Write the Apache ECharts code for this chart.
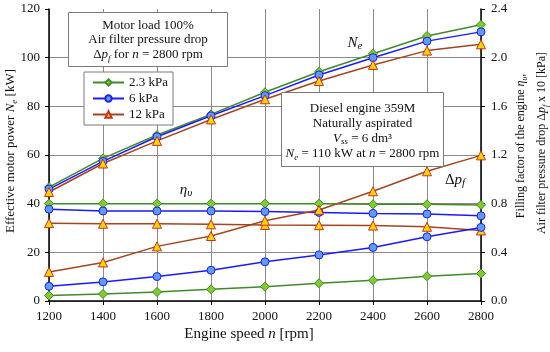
<!DOCTYPE html>
<html><head><meta charset="utf-8">
<script src="https://cdn.jsdelivr.net/npm/echarts@6/dist/echarts.min.js"></script>
<style>html,body{margin:0;padding:0;background:#fff}#c{width:550px;height:352px}</style>
</head><body><div id="c"></div>
<script>
// ---- data ----
const speeds = [1200, 1400, 1600, 1800, 2000, 2200, 2400, 2600, 2800];
const legendNames = ['2.3 kPa', '6 kPa', '12 kPa'];
// Effective power Ne [kW] (left axis)
const Ne_23 = [46.8, 58.6, 68.2, 76.7, 85.8, 94.2, 101.6, 108.9, 113.5];
const Ne_6  = [46.0, 57.4, 67.5, 76.1, 84.4, 92.9, 100.0, 106.8, 110.6];
const Ne_12 = [44.8, 56.5, 65.8, 74.6, 82.9, 90.4, 97.0, 102.9, 105.5];
// Filling factor eta_v (right axis)
const eta_23 = [0.80, 0.80, 0.80, 0.80, 0.80, 0.80, 0.795, 0.795, 0.79];
const eta_6  = [0.755, 0.74, 0.74, 0.74, 0.735, 0.728, 0.72, 0.715, 0.70];
const eta_12 = [0.64, 0.635, 0.635, 0.63, 0.625, 0.623, 0.62, 0.61, 0.58];
// Air filter pressure drop dp_f x 10 [kPa] (right axis)
const dp_23 = [0.045, 0.058, 0.074, 0.096, 0.118, 0.146, 0.171, 0.204, 0.226];
const dp_6  = [0.121, 0.157, 0.201, 0.253, 0.322, 0.379, 0.44, 0.528, 0.605];
const dp_12 = [0.239, 0.317, 0.449, 0.534, 0.66, 0.748, 0.902, 1.066, 1.197];

// ---- style ----
const FONT = "'Liberation Serif','Times New Roman',serif";
const TXT = '#111';
const GRIDC = '#8a8a8a';
const sty = {
  '2.3 kPa': {sym: 'diamond', size: 9, line: '#3f8a2a', fill: '#7fcc2a', border: '#3f8a2a'},
  '6 kPa':   {sym: 'circle', size: 8, line: '#1a1aff', fill: '#5f9bff', border: '#2020e0'},
  '12 kPa':  {sym: 'triangle', size: 9, line: '#a3461f', fill: '#ffd400', border: '#c8321e'}
};

function mk(name, vals, axis) {
  const s = sty[name];
  return {
    type: 'line', name: name, yAxisIndex: axis,
    data: speeds.map((x, i) => [x, vals[i]]),
    symbol: s.sym, symbolSize: s.size, showSymbol: true, clip: false,
    lineStyle: {color: s.line, width: 1.5},
    itemStyle: {color: s.fill, borderColor: s.border, borderWidth: 1},
    emphasis: {disabled: true}
  };
}

function rich(fs) {
  const sf = Math.round(fs * 0.7);
  return {
    n: {fontFamily: FONT, fontSize: fs, lineHeight: fs + 3, color: TXT},
    i: {fontFamily: FONT, fontSize: fs, fontStyle: 'italic', lineHeight: fs + 3, color: TXT},
    s: {fontFamily: FONT, fontSize: sf, fontStyle: 'italic', lineHeight: sf, verticalAlign: 'bottom', color: TXT}
  };
}
function txt(x, y, text, fs, rot) {
  return {
    type: 'text', x: x, y: y, rotation: rot || 0, z: 100,
    style: {text: text, rich: rich(fs), align: 'center', verticalAlign: 'middle',
            textAlign: 'center', textVerticalAlign: 'middle', fill: TXT, font: fs + 'px ' + FONT}
  };
}
function box(x, y, w, h) {
  return {type: 'rect', z: 90, shape: {x: x, y: y, width: w, height: h},
          style: {fill: '#fff', stroke: '#7a7a7a', lineWidth: 1}};
}

const chart = echarts.init(document.getElementById('c'), null, {renderer: 'canvas'});
chart.setOption({
  animation: false,
  backgroundColor: '#fff',
  grid: {left: 49, right: 69, top: 9, bottom: 51},
  legend: {
    data: legendNames, orient: 'vertical', left: 84, top: 72,
    itemWidth: 31, itemHeight: 8, itemGap: 3,
    padding: [4, 5, 4, 8],
    backgroundColor: '#fff', borderColor: '#7a7a7a', borderWidth: 1,
    textStyle: {fontFamily: FONT, fontSize: 13, color: TXT},
    z: 95
  },
  xAxis: {
    type: 'value', min: 1200, max: 2800, interval: 200,
    axisLine: {show: true, lineStyle: {color: '#000', width: 1.5}},
    axisTick: {show: true, inside: false, length: 4, lineStyle: {color: '#000'}},
    axisLabel: {fontFamily: FONT, fontSize: 13, color: TXT, margin: 9, formatter: v => String(v)},
    splitLine: {show: true, lineStyle: {color: GRIDC, width: 1}}
  },
  yAxis: [{
    type: 'value', min: 0, max: 120, interval: 20, position: 'left',
    axisLine: {show: true, lineStyle: {color: '#000', width: 1.5}},
    axisTick: {show: true, inside: false, length: 4, lineStyle: {color: '#000'}},
    axisLabel: {fontFamily: FONT, fontSize: 13, color: TXT, margin: 9, formatter: v => String(v)},
    splitLine: {show: true, lineStyle: {color: [GRIDC, GRIDC, GRIDC, GRIDC, GRIDC, GRIDC, 'rgba(0,0,0,0)'], width: 1}}
  }, {
    type: 'value', min: 0, max: 2.4, interval: 0.4, position: 'right',
    axisLine: {show: true, lineStyle: {color: '#000', width: 1.5}},
    axisTick: {show: true, inside: false, length: 4, lineStyle: {color: '#000'}},
    axisLabel: {fontFamily: FONT, fontSize: 13, color: TXT, margin: 10, formatter: v => v.toFixed(1)},
    splitLine: {show: false}
  }],
  series: [
    mk('2.3 kPa', Ne_23, 0), mk('6 kPa', Ne_6, 0), mk('12 kPa', Ne_12, 0),
    mk('2.3 kPa', eta_23, 1), mk('6 kPa', eta_6, 1), mk('12 kPa', eta_12, 1),
    mk('2.3 kPa', dp_23, 1), mk('6 kPa', dp_6, 1), mk('12 kPa', dp_12, 1)
  ],
  graphic: [
    box(68.5, 12.5, 159, 54),
    txt(148, 25.7, '{n|Motor load 100%}', 13),
    txt(148, 40, '{n|Air filter pressure drop}', 13),
    txt(148, 55, '{n|Δ}{i|p}{s|f}{n| for }{i|n}{n| = 2800 rpm}', 13),
    box(281.5, 92.5, 162, 74),
    txt(362.5, 108.3, '{n|Diesel engine 359M}', 13),
    txt(362.5, 123.3, '{n|Naturally aspirated}', 13),
    txt(362.5, 138.3, '{i|V}{s|ss}{n| = 6 dm³}', 13),
    txt(362.5, 154, '{i|N}{s|e}{n| = 110 kW at }{i|n}{n| = 2800 rpm}', 13),
    txt(355, 43, '{i|N}{s|e}', 15),
    txt(186, 190, '{i|η}{s|υ}', 15),
    txt(455, 180, '{n|Δ}{i|p}{s|f}', 15),
    txt(249, 334, '{n|Engine speed }{i|n}{n| [rpm]}', 15),
    txt(11, 151, '{n|Effective motor power }{i|N}{s|e}{n| [kW]}', 13, Math.PI / 2),
    txt(521, 146, '{n|Filling factor of the engine }{i|η}{s|υ}{n|,}', 12, Math.PI / 2),
    txt(542, 143, '{n|Air filter pressure drop Δ}{i|p}{s|f}{n| x 10 [kPa]}', 12, Math.PI / 2)
  ]
});
</script>
</body></html>
